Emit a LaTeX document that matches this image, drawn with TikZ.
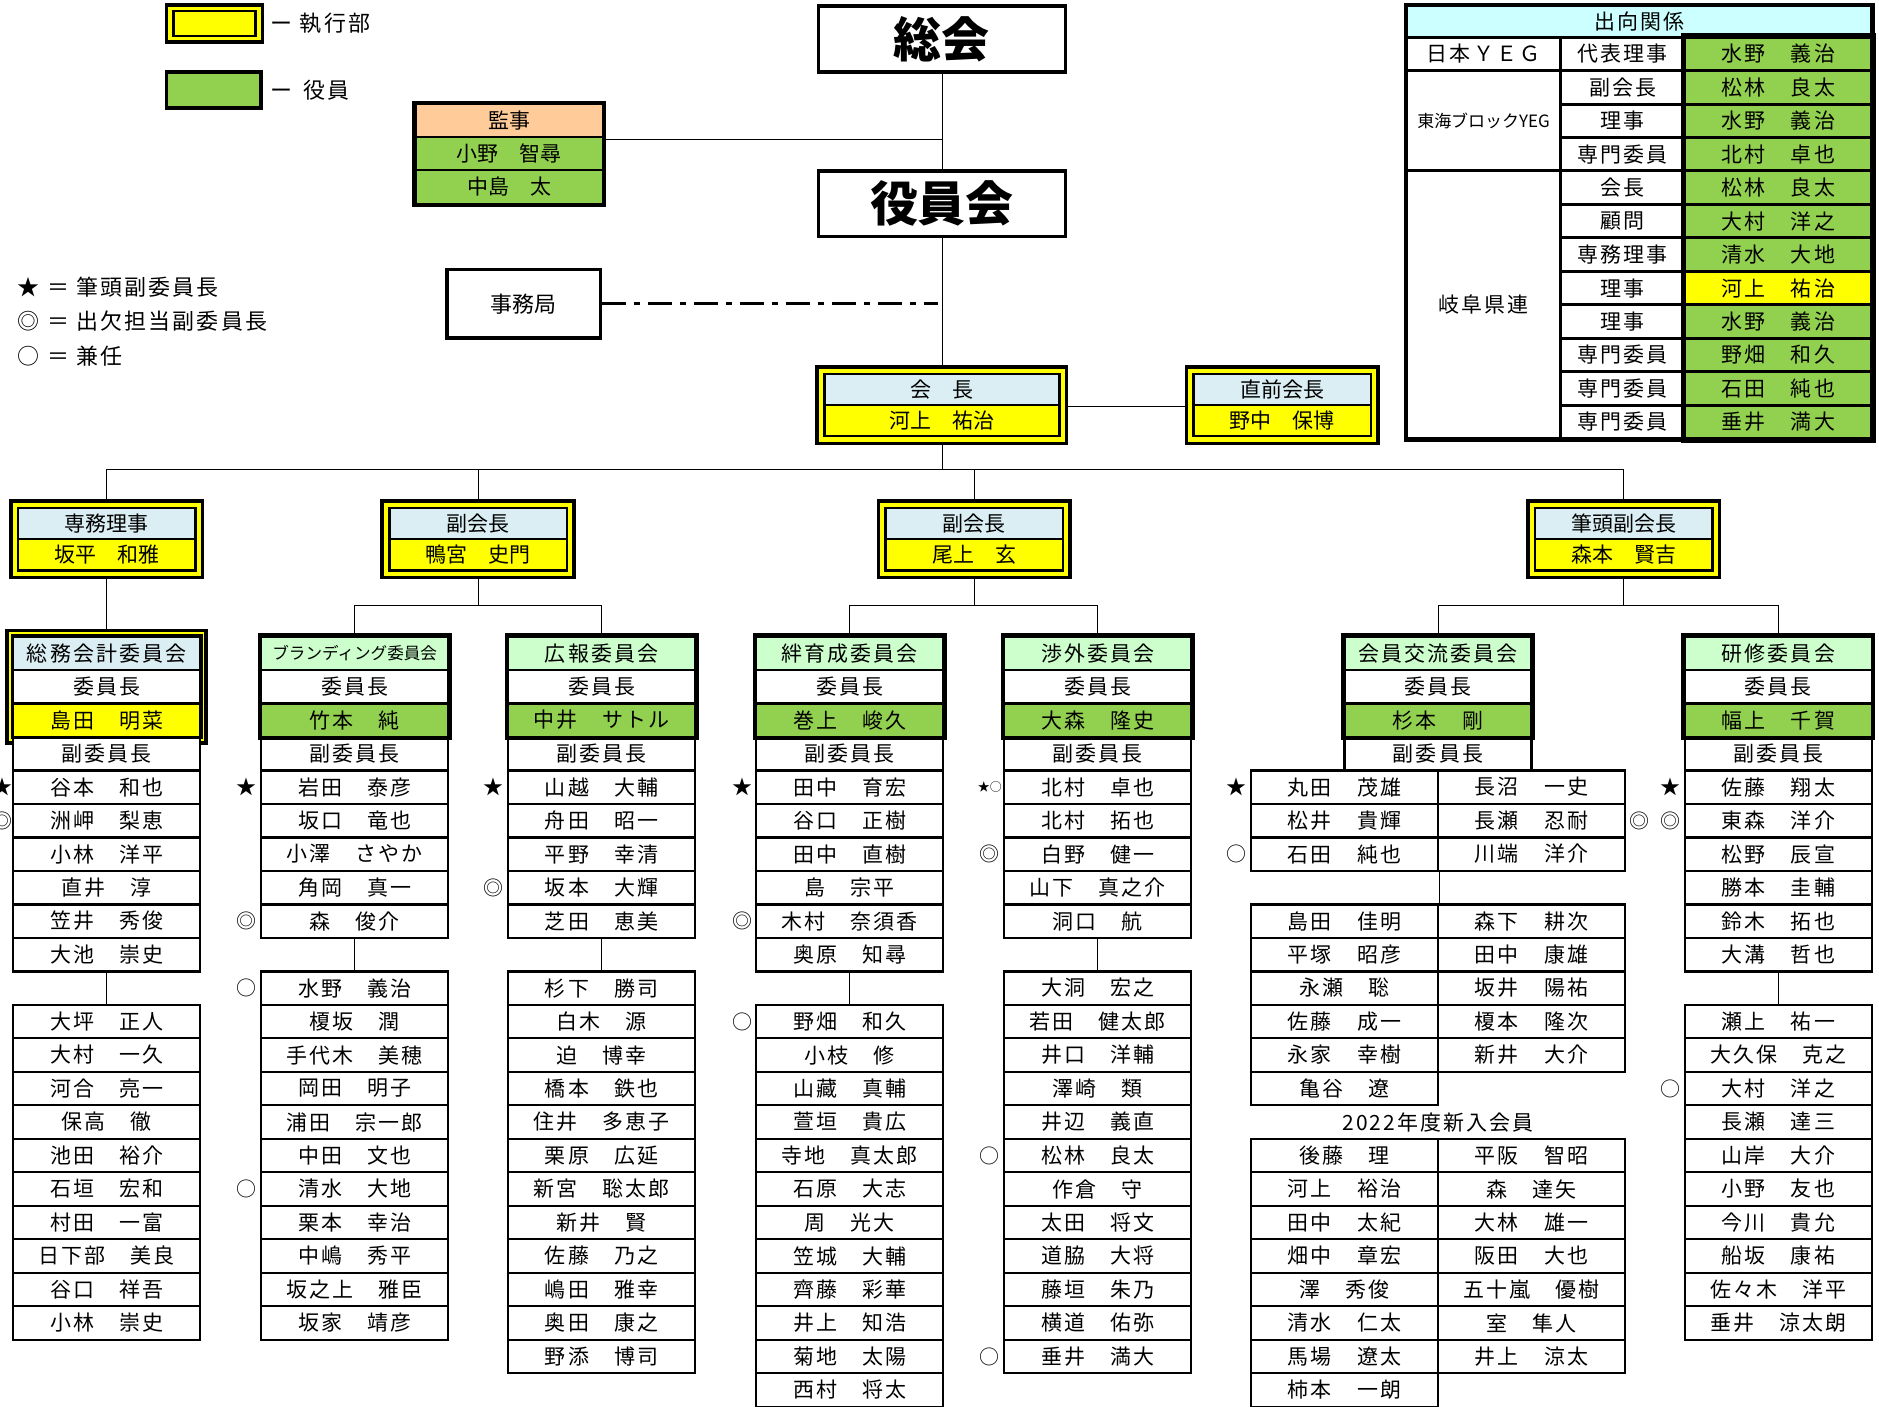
\documentclass[tikz,border=0pt]{standalone}
\usepackage{fontspec}
\setmainfont{Noto Sans CJK JP}
\newfontfamily\memfont{Noto Sans CJK JP}[LetterSpace=10]
\usetikzlibrary{calc,backgrounds}
\pgfdeclarelayer{conn}
\pgfsetlayers{conn,background,main}
\definecolor{exyellow}{HTML}{FFFF00}
\definecolor{ygreen}{HTML}{92D050}
\definecolor{hdblue}{HTML}{DAEEF3}
\definecolor{hdgreen}{HTML}{CCFFCC}
\definecolor{kanjiorange}{HTML}{FFCC99}
\definecolor{tblcyan}{HTML}{CCFFFF}
\def\cmty{545}
\def\cmth{27.95}
\begin{document}
\begin{tikzpicture}[x=0.6pt,y=-0.6pt,line width=1.2pt,
  cell/.style={draw,line width=1.2pt,fill=white,minimum width=93.6pt,minimum height=16.77pt,inner sep=0pt,font=\memfont\fontsize{10.5}{12}\selectfont},
  chead/.style={cell,fill=hdgreen},
  chair/.style={cell,fill=ygreen},
  boss/.style={draw,line width=1.2pt,minimum width=88.8pt,minimum height=15.6pt,inner sep=0pt,font=\fontsize{10.5}{12}\selectfont},
  tcell/.style={draw,line width=1.5pt,fill=white,minimum height=16.75pt,inner sep=0pt,font=\memfont\fontsize{10.5}{12}\selectfont},
  sym/.style={inner sep=0pt,font=\fontsize{10}{10}\selectfont},
  legend/.style={anchor=west,inner sep=0pt,font=\memfont\fontsize{11}{12}\selectfont},
  bigbox/.style={draw,line width=1.8pt,minimum width=123.6pt,minimum height=33pt,font=\fontsize{24}{26}\selectfont\bfseries},
  thickframe/.style={line width=2.4pt}]
  \useasboundingbox (0,0) rectangle (1568,1174);
  % legend
  \node[draw,line width=1.8pt,fill=exyellow,minimum width=48pt,minimum height=18.6pt,inner sep=0pt] (lg-yframe) at (179,19.5) {};
  \node[draw,line width=1.2pt,fill=exyellow,minimum width=41pt,minimum height=12.6pt,inner sep=0pt] (lg-ybox) at (lg-yframe.center) {};
  \node[legend] (lg-exec) at (225,19.5) {ー 執行部};
  \node[draw,line width=1.8pt,fill=ygreen,minimum width=47.4pt,minimum height=18pt,inner sep=0pt] (lg-gbox) at (178.5,75) {};
  \node[legend] (lg-off) at (225,75) {ー\hspace{0.5em}役員};
  \node[legend] (lg-star) at (14,240) {★ ＝ 筆頭副委員長};
  \node[legend] (lg-dbl) at (14,268) {◎ ＝ 出欠担当副委員長};
  \node[legend] (lg-dual) at (14,297) {○ ＝ 兼任};
  % top
  \node[bigbox] (sokai) at (786,32.5) {総会};
  \node[bigbox] (yakuin) at (786,170) {役員会};
  \node[cell,fill=kanjiorange,font=\fontsize{10.5}{12}\selectfont] (kanji-0) at (425,101) {監事};
  \node[cell,fill=ygreen,font=\fontsize{10.5}{12}\selectfont] (kanji-1) at (425,128.5) {小野　智尋};
  \node[cell,fill=ygreen,font=\fontsize{10.5}{12}\selectfont] (kanji-2) at (425,156) {中島　太};
  \draw[thickframe] (kanji-0.north west) rectangle (kanji-2.south east);
  \node[draw,line width=1.8pt,minimum width=76.8pt,minimum height=34.2pt,font=\fontsize{11}{12}\selectfont] (jimu) at (437,253.5) {事務局};
  % executives
  \node[boss,fill=hdblue,minimum width=117.6pt] (kaicho-0) at (786,325) {会　長};
  \node[boss,fill=exyellow,minimum width=117.6pt] (kaicho-1) at (786,351) {河上　祐治};
  \node[boss,fill=hdblue] (zenkai-0) at (1070,325) {直前会長};
  \node[boss,fill=exyellow] (zenkai-1) at (1070,351) {野中　保博};
  \foreach \nd/\cx/\ttl/\nm in {senmu/89/専務理事/坂平　和雅,fuku1/399/副会長/鴨宮　史門,fuku2/813/副会長/尾上　玄,hitto/1355/筆頭副会長/森本　賢吉}{
    \node[boss,fill=hdblue] (\nd-0) at (\cx,437) {\ttl};
    \node[boss,fill=exyellow] (\nd-1) at (\cx,463) {\nm};
  }
  \begin{pgfonlayer}{background}
    \foreach \nd in {kaicho,zenkai,senmu,fuku1,fuku2,hitto}
      \draw[line width=1.8pt,fill=exyellow] ($(\nd-0.north west)+(-5,-5)$) rectangle ($(\nd-1.south east)+(5,5)$);
  \end{pgfonlayer}
  % committees
  \node[cell,fill=hdblue] (somu-0) at (89,\cmty) {総務会計委員会};
  \node[cell] (somu-1) at (89,{\cmty+\cmth}) {委員長};
  \node[cell,fill=exyellow] (somu-2) at (89,{\cmty+2*\cmth}) {島田　明菜};
  \node[cell] (somu-3) at (89,{\cmty+3*\cmth}) {副委員長};
  \begin{pgfonlayer}{background}
    \draw[line width=1.8pt,fill=exyellow] ($(somu-0.north west)+(-4,-4)$) rectangle ($(somu-2.south east)+(4,4)$);
  \end{pgfonlayer}
  \draw[line width=1.2pt] (somu-0.north west) rectangle (somu-2.south east);
  \foreach \nd/\cx/\ttl/\nm in {brand/296/{\rmfamily\fontsize{8.3}{10}\selectfont ブランディング委員会}/竹本　純,
      koho/502/広報委員会/中井　サトル,kizuna/709/絆育成委員会/巻上　峻久,
      shogai/916/渉外委員会/大森　隆史,koryu/1200/会員交流委員会/杉本　剛,kenshu/1484/研修委員会/幅上　千賀}{
    \node[chead] (\nd-0) at (\cx,\cmty) {\ttl};
    \node[cell] (\nd-1) at (\cx,{\cmty+\cmth}) {委員長};
    \node[chair] (\nd-2) at (\cx,{\cmty+2*\cmth}) {\nm};
    \node[cell] (\nd-3) at (\cx,{\cmty+3*\cmth}) {副委員長};
    \draw[thickframe] (\nd-0.north west) rectangle (\nd-2.south east);
  }
  \foreach \nm [count=\i from 4] in {谷本　和也,洲岬　梨恵,小林　洋平,直井　淳,笠井　秀俊,大池　崇史}
    \node[cell] (somu-\i) at (89,{\cmty+\i*\cmth}) {\nm};
  \foreach \nm [count=\i from 11] in {大坪　正人,大村　一久,河合　亮一,保高　徹,池田　裕介,石垣　宏和,村田　一富,日下部　美良,谷口　祥吾,小林　崇史}
    \node[cell] (somu-\i) at (89,{\cmty+\i*\cmth}) {\nm};
  \foreach \nm [count=\i from 4] in {岩田　泰彦,坂口　竜也,小澤　さやか,角岡　真一,森　俊介}
    \node[cell] (brand-\i) at (296,{\cmty+\i*\cmth}) {\nm};
  \foreach \nm [count=\i from 10] in {水野　義治,榎坂　潤,手代木　美穂,岡田　明子,浦田　宗一郎,中田　文也,清水　大地,栗本　幸治,中嶋　秀平,坂之上　雅臣,坂家　靖彦}
    \node[cell] (brand-\i) at (296,{\cmty+\i*\cmth}) {\nm};
  \foreach \nm [count=\i from 4] in {山越　大輔,舟田　昭一,平野　幸清,坂本　大輝,芝田　恵美}
    \node[cell] (koho-\i) at (502,{\cmty+\i*\cmth}) {\nm};
  \foreach \nm [count=\i from 10] in {杉下　勝司,白木　源,迫　博幸,橋本　鉄也,住井　多恵子,栗原　広延,新宮　聡太郎,新井　賢,佐藤　乃之,嶋田　雅幸,奥田　康之,野添　博司}
    \node[cell] (koho-\i) at (502,{\cmty+\i*\cmth}) {\nm};
  \foreach \nm [count=\i from 4] in {田中　育宏,谷口　正樹,田中　直樹,島　宗平,木村　奈須香,奥原　知尋}
    \node[cell] (kizuna-\i) at (709,{\cmty+\i*\cmth}) {\nm};
  \foreach \nm [count=\i from 11] in {野畑　和久,小枝　修,山藏　真輔,萱垣　貴広,寺地　真太郎,石原　大志,周　光大,笠城　大輔,齊藤　彩華,井上　知浩,菊地　太陽,西村　将太}
    \node[cell] (kizuna-\i) at (709,{\cmty+\i*\cmth}) {\nm};
  \foreach \nm [count=\i from 4] in {北村　卓也,北村　拓也,白野　健一,山下　真之介,洞口　航}
    \node[cell] (shogai-\i) at (916,{\cmty+\i*\cmth}) {\nm};
  \foreach \nm [count=\i from 10] in {大洞　宏之,若田　健太郎,井口　洋輔,澤崎　類,井辺　義直,松林　良太,作倉　守,太田　将文,道脇　大将,藤垣　朱乃,横道　佑弥,垂井　満大}
    \node[cell] (shogai-\i) at (916,{\cmty+\i*\cmth}) {\nm};
  \foreach \a/\b [count=\i from 4] in {丸田　茂雄/長沼　一史,松井　貴輝/長瀬　忍耐,石田　純也/川端　洋介}{
    \node[cell] (kL-\i) at (1122,{\cmty+\i*\cmth}) {\a};
    \node[cell] (kR-\i) at (1278,{\cmty+\i*\cmth}) {\b};
  }
  \foreach \a/\b [count=\i from 8] in {島田　佳明/森下　耕次,平塚　昭彦/田中　康雄,永瀬　聡/坂井　陽祐,佐藤　成一/榎本　隆次,永家　幸樹/新井　大介}{
    \node[cell] (kL-\i) at (1122,{\cmty+\i*\cmth}) {\a};
    \node[cell] (kR-\i) at (1278,{\cmty+\i*\cmth}) {\b};
  }
  \node[cell] (kL-13) at (1122,{\cmty+13*\cmth}) {亀谷　遼};
  \node[inner sep=0pt,font=\memfont\fontsize{10.5}{12}\selectfont] (shinnyu) at (1200,{\cmty+14*\cmth}) {2022年度新入会員};
  \foreach \a/\b [count=\i from 15] in {後藤　理/平阪　智昭,河上　裕治/森　達矢,田中　太紀/大林　雄一,畑中　章宏/阪田　大也,澤　秀俊/五十嵐　優樹,清水　仁太/室　隼人,馬場　遼太/井上　涼太}{
    \node[cell] (kL-\i) at (1122,{\cmty+\i*\cmth}) {\a};
    \node[cell] (kR-\i) at (1278,{\cmty+\i*\cmth}) {\b};
  }
  \node[cell] (kL-22) at (1122,{\cmty+22*\cmth}) {柿本　一朗};
  \foreach \nm [count=\i from 4] in {佐藤　翔太,東森　洋介,松野　辰宣,勝本　圭輔,鈴木　拓也,大溝　哲也}
    \node[cell] (kenshu-\i) at (1484,{\cmty+\i*\cmth}) {\nm};
  \foreach \nm [count=\i from 11] in {瀬上　祐一,大久保　克之,大村　洋之,長瀬　達三,山岸　大介,小野　友也,今川　貴允,船坂　康祐,佐々木　洋平,垂井　涼太朗}
    \node[cell] (kenshu-\i) at (1484,{\cmty+\i*\cmth}) {\nm};
  % markers
  \foreach \mx/\mr/\ms [count=\k] in {2/4/★,2/5/◎,206/4/★,206/8/◎,206/10/○,206/16/○,412/4/★,412/7/◎,620/4/★,620/8/◎,620/11/○,
      826/6/◎,826/15/○,826/21/○,1032/4/★,1032/6/○,1368/5/◎,1394/4/★,1394/5/◎,1394/13/○}
    \node[sym] (mk-\k) at (\mx,{\cmty+\mr*\cmth}) {\ms};
  \node[sym,font=\fontsize{6}{6}\selectfont] (mk-kita) at (826,{\cmty+4*\cmth}) {★○};
  % table
  \node[draw,line width=1.5pt,fill=tblcyan,minimum width=232.8pt,minimum height=15.6pt,inner sep=0pt,font=\memfont\fontsize{10.5}{12}\selectfont] (shukko) at (1368,18) {出向関係};
  \node[tcell,minimum width=76.8pt] (grp-1) at (1238,45) {日本ＹＥＧ};
  \node[tcell,minimum width=76.8pt,minimum height=50.25pt,font=\fontsize{8.5}{9}\selectfont] (grp-2) at (1238,100.8) {東海ブロックYEG};
  \node[tcell,minimum width=76.8pt,minimum height=134pt] (grp-3) at (1238,254.3) {岐阜県連};
  \foreach \role/\nm/\clr [count=\i] in {代表理事/水野　義治/ygreen,副会長/松林　良太/ygreen,理事/水野　義治/ygreen,専門委員/北村　卓也/ygreen,
      会長/松林　良太/ygreen,顧問/大村　洋之/ygreen,専務理事/清水　大地/ygreen,理事/河上　祐治/exyellow,理事/水野　義治/ygreen,
      専門委員/野畑　和久/ygreen,専門委員/石田　純也/ygreen,専門委員/垂井　満大/ygreen}{
    \node[tcell,minimum width=62.4pt] (trole-\i) at (1354,{31+(\i-0.5)*27.92}) {\role};
    \node[tcell,fill=\clr,minimum width=93.6pt] (tname-\i) at (1484,{31+(\i-0.5)*27.92}) {\nm};
  }
  \draw[thickframe] (tname-1.north west) rectangle (tname-12.south east);
  \draw[line width=1.8pt] (shukko.north west) rectangle (tname-12.south east);
  % connectors
  \begin{pgfonlayer}{conn}
    \draw (sokai.south) -- (yakuin.north);
    \draw (kanji-0.south east) -- (kanji-0.south east -| sokai.south);
    \draw[line width=1.5pt,dash pattern=on 12pt off 4pt on 3pt off 4pt] (jimu.east) -- ($(jimu.east -| yakuin.south)+(-3,0)$);
    \draw (yakuin.south) -- (kaicho-0.north);
    \draw (kaicho-0.south east) -- (zenkai-0.south west);
    \coordinate (bus) at (786,392);
    \draw (kaicho-1.south) -- (bus);
    \draw (senmu-0.north) |- (bus) -| (hitto-0.north);
    \draw (fuku1-0.north) -- (fuku1-0.north |- bus);
    \draw (fuku2-0.north) -- (fuku2-0.north |- bus);
    \draw (senmu-1.south) -- (somu-0.north);
    \coordinate (fuku1-br) at (399,505);
    \coordinate (fuku2-br) at (813,505);
    \coordinate (hitto-br) at (1355,505);
    \draw (fuku1-1.south) -- (fuku1-br);
    \draw (brand-0.north) |- (fuku1-br) -| (koho-0.north);
    \draw (fuku2-1.south) -- (fuku2-br);
    \draw (kizuna-0.north) |- (fuku2-br) -| (shogai-0.north);
    \draw (hitto-1.south) -- (hitto-br);
    \draw (koryu-0.north) |- (hitto-br) -| (kenshu-0.north);
    \draw (somu-9.south) -- (somu-11.north);
    \draw (brand-8.south) -- (brand-10.north);
    \draw (koho-8.south) -- (koho-10.north);
    \draw (kizuna-9.south) -- (kizuna-11.north);
    \draw (shogai-8.south) -- (shogai-10.north);
    \draw (kL-6.south east) -- (kL-8.north east);
    \draw (kenshu-9.south) -- (kenshu-11.north);
  \end{pgfonlayer}
\end{tikzpicture}
\end{document}
